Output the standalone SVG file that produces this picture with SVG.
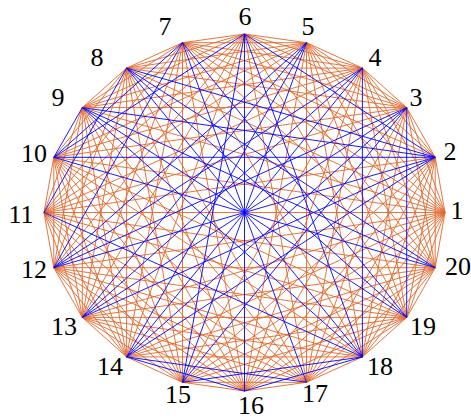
<svg xmlns="http://www.w3.org/2000/svg" width="471" height="419" viewBox="0 0 471 419">
<style>
.o{stroke:#E2662A;stroke-width:0.9;fill:none}
.b{stroke:#0000FF;stroke-width:0.9;fill:none}
text{font-family:"Liberation Serif","DejaVu Serif",serif;font-size:26px;fill:#000;text-anchor:middle}
</style>
<rect width="471" height="419" fill="#fff"/>
<g id="connectors">
<g id="orange">
<path class="o" d="M445 212.5L435.2 157.3"/><path class="o" d="M445 212.5L406.7 107.6"/><path class="o" d="M445 212.5L362.4 68.1"/><path class="o" d="M445 212.5L306.5 42.7"/><path class="o" d="M445 212.5L244.5 34"/><path class="o" d="M445 212.5L182.5 42.7"/><path class="o" d="M445 212.5L126.6 68.1"/><path class="o" d="M445 212.5L82.3 107.6"/><path class="o" d="M445 212.5L53.8 157.3"/><path class="o" d="M445 212.5L44 212.5"/><path class="o" d="M445 212.5L53.8 267.7"/><path class="o" d="M445 212.5L82.3 317.4"/><path class="o" d="M445 212.5L126.6 356.9"/><path class="o" d="M445 212.5L182.5 382.3"/><path class="o" d="M445 212.5L244.5 391"/><path class="o" d="M445 212.5L306.5 382.3"/><path class="o" d="M445 212.5L362.4 356.9"/><path class="o" d="M445 212.5L406.7 317.4"/><path class="o" d="M445 212.5L435.2 267.7"/>
<path class="o" d="M435.2 157.3L406.7 107.6"/><path class="o" d="M435.2 157.3L362.4 68.1"/><path class="o" d="M435.2 157.3L306.5 42.7"/><path class="o" d="M435.2 157.3L182.5 42.7"/><path class="o" d="M435.2 157.3L44 212.5"/><path class="o" d="M435.2 157.3L182.5 382.3"/><path class="o" d="M435.2 157.3L244.5 391"/><path class="o" d="M435.2 157.3L306.5 382.3"/><path class="o" d="M435.2 157.3L362.4 356.9"/><path class="o" d="M435.2 157.3L406.7 317.4"/><path class="o" d="M435.2 157.3L435.2 267.7"/>
<path class="o" d="M406.7 107.6L362.4 68.1"/><path class="o" d="M406.7 107.6L306.5 42.7"/><path class="o" d="M406.7 107.6L244.5 34"/><path class="o" d="M406.7 107.6L182.5 42.7"/><path class="o" d="M406.7 107.6L126.6 68.1"/><path class="o" d="M406.7 107.6L82.3 107.6"/><path class="o" d="M406.7 107.6L53.8 157.3"/><path class="o" d="M406.7 107.6L44 212.5"/><path class="o" d="M406.7 107.6L244.5 391"/><path class="o" d="M406.7 107.6L306.5 382.3"/><path class="o" d="M406.7 107.6L362.4 356.9"/><path class="o" d="M406.7 107.6L435.2 267.7"/>
<path class="o" d="M362.4 68.1L306.5 42.7"/><path class="o" d="M362.4 68.1L244.5 34"/><path class="o" d="M362.4 68.1L182.5 42.7"/><path class="o" d="M362.4 68.1L126.6 68.1"/><path class="o" d="M362.4 68.1L82.3 107.6"/><path class="o" d="M362.4 68.1L53.8 157.3"/><path class="o" d="M362.4 68.1L44 212.5"/><path class="o" d="M362.4 68.1L182.5 382.3"/><path class="o" d="M362.4 68.1L244.5 391"/><path class="o" d="M362.4 68.1L306.5 382.3"/><path class="o" d="M362.4 68.1L406.7 317.4"/><path class="o" d="M362.4 68.1L435.2 267.7"/>
<path class="o" d="M306.5 42.7L244.5 34"/><path class="o" d="M306.5 42.7L182.5 42.7"/><path class="o" d="M306.5 42.7L126.6 68.1"/><path class="o" d="M306.5 42.7L82.3 107.6"/><path class="o" d="M306.5 42.7L53.8 157.3"/><path class="o" d="M306.5 42.7L44 212.5"/><path class="o" d="M306.5 42.7L244.5 391"/><path class="o" d="M306.5 42.7L306.5 382.3"/><path class="o" d="M306.5 42.7L362.4 356.9"/><path class="o" d="M306.5 42.7L406.7 317.4"/><path class="o" d="M306.5 42.7L435.2 267.7"/>
<path class="o" d="M244.5 34L182.5 42.7"/><path class="o" d="M244.5 34L126.6 68.1"/><path class="o" d="M244.5 34L82.3 107.6"/><path class="o" d="M244.5 34L44 212.5"/><path class="o" d="M244.5 34L53.8 267.7"/><path class="o" d="M244.5 34L82.3 317.4"/><path class="o" d="M244.5 34L126.6 356.9"/><path class="o" d="M244.5 34L306.5 382.3"/><path class="o" d="M244.5 34L406.7 317.4"/><path class="o" d="M244.5 34L435.2 267.7"/>
<path class="o" d="M182.5 42.7L126.6 68.1"/><path class="o" d="M182.5 42.7L82.3 107.6"/><path class="o" d="M182.5 42.7L44 212.5"/><path class="o" d="M182.5 42.7L82.3 317.4"/><path class="o" d="M182.5 42.7L126.6 356.9"/><path class="o" d="M182.5 42.7L182.5 382.3"/><path class="o" d="M182.5 42.7L244.5 391"/><path class="o" d="M182.5 42.7L362.4 356.9"/><path class="o" d="M182.5 42.7L435.2 267.7"/>
<path class="o" d="M126.6 68.1L82.3 107.6"/><path class="o" d="M126.6 68.1L53.8 157.3"/><path class="o" d="M126.6 68.1L53.8 267.7"/><path class="o" d="M126.6 68.1L82.3 317.4"/><path class="o" d="M126.6 68.1L126.6 356.9"/><path class="o" d="M126.6 68.1L182.5 382.3"/><path class="o" d="M126.6 68.1L244.5 391"/><path class="o" d="M126.6 68.1L306.5 382.3"/>
<path class="o" d="M82.3 107.6L44 212.5"/><path class="o" d="M82.3 107.6L53.8 267.7"/><path class="o" d="M82.3 107.6L82.3 317.4"/><path class="o" d="M82.3 107.6L126.6 356.9"/><path class="o" d="M82.3 107.6L182.5 382.3"/><path class="o" d="M82.3 107.6L244.5 391"/><path class="o" d="M82.3 107.6L306.5 382.3"/>
<path class="o" d="M53.8 157.3L44 212.5"/><path class="o" d="M53.8 157.3L53.8 267.7"/><path class="o" d="M53.8 157.3L82.3 317.4"/><path class="o" d="M53.8 157.3L126.6 356.9"/><path class="o" d="M53.8 157.3L182.5 382.3"/><path class="o" d="M53.8 157.3L244.5 391"/><path class="o" d="M53.8 157.3L306.5 382.3"/><path class="o" d="M53.8 157.3L362.4 356.9"/><path class="o" d="M53.8 157.3L406.7 317.4"/>
<path class="o" d="M44 212.5L53.8 267.7"/><path class="o" d="M44 212.5L82.3 317.4"/><path class="o" d="M44 212.5L126.6 356.9"/><path class="o" d="M44 212.5L182.5 382.3"/><path class="o" d="M44 212.5L244.5 391"/><path class="o" d="M44 212.5L306.5 382.3"/><path class="o" d="M44 212.5L406.7 317.4"/><path class="o" d="M44 212.5L435.2 267.7"/>
<path class="o" d="M53.8 267.7L82.3 317.4"/><path class="o" d="M53.8 267.7L126.6 356.9"/><path class="o" d="M53.8 267.7L182.5 382.3"/><path class="o" d="M53.8 267.7L244.5 391"/><path class="o" d="M53.8 267.7L306.5 382.3"/><path class="o" d="M53.8 267.7L362.4 356.9"/><path class="o" d="M53.8 267.7L406.7 317.4"/><path class="o" d="M53.8 267.7L435.2 267.7"/>
<path class="o" d="M82.3 317.4L126.6 356.9"/><path class="o" d="M82.3 317.4L182.5 382.3"/><path class="o" d="M82.3 317.4L244.5 391"/><path class="o" d="M82.3 317.4L306.5 382.3"/><path class="o" d="M82.3 317.4L362.4 356.9"/><path class="o" d="M82.3 317.4L406.7 317.4"/><path class="o" d="M82.3 317.4L435.2 267.7"/>
<path class="o" d="M126.6 356.9L182.5 382.3"/><path class="o" d="M126.6 356.9L362.4 356.9"/><path class="o" d="M126.6 356.9L406.7 317.4"/><path class="o" d="M126.6 356.9L435.2 267.7"/>
<path class="o" d="M182.5 382.3L244.5 391"/><path class="o" d="M182.5 382.3L306.5 382.3"/><path class="o" d="M182.5 382.3L406.7 317.4"/><path class="o" d="M182.5 382.3L435.2 267.7"/>
<path class="o" d="M244.5 391L306.5 382.3"/><path class="o" d="M244.5 391L406.7 317.4"/><path class="o" d="M244.5 391L435.2 267.7"/>
<path class="o" d="M306.5 382.3L362.4 356.9"/><path class="o" d="M306.5 382.3L406.7 317.4"/><path class="o" d="M306.5 382.3L435.2 267.7"/>
<path class="o" d="M362.4 356.9L406.7 317.4"/><path class="o" d="M362.4 356.9L435.2 267.7"/>
<path class="o" d="M406.7 317.4L435.2 267.7"/>
</g>
<g id="blue">
<path class="b" d="M435.2 157.3L244.5 34"/><path class="b" d="M435.2 157.3L126.6 68.1"/><path class="b" d="M435.2 157.3L82.3 107.6"/><path class="b" d="M435.2 157.3L53.8 157.3"/><path class="b" d="M435.2 157.3L53.8 267.7"/><path class="b" d="M435.2 157.3L82.3 317.4"/><path class="b" d="M435.2 157.3L126.6 356.9"/>
<path class="b" d="M406.7 107.6L53.8 267.7"/><path class="b" d="M406.7 107.6L82.3 317.4"/><path class="b" d="M406.7 107.6L126.6 356.9"/><path class="b" d="M406.7 107.6L182.5 382.3"/><path class="b" d="M406.7 107.6L406.7 317.4"/>
<path class="b" d="M362.4 68.1L53.8 267.7"/><path class="b" d="M362.4 68.1L82.3 317.4"/><path class="b" d="M362.4 68.1L126.6 356.9"/><path class="b" d="M362.4 68.1L362.4 356.9"/>
<path class="b" d="M306.5 42.7L53.8 267.7"/><path class="b" d="M306.5 42.7L82.3 317.4"/><path class="b" d="M306.5 42.7L126.6 356.9"/><path class="b" d="M306.5 42.7L182.5 382.3"/>
<path class="b" d="M244.5 34L53.8 157.3"/><path class="b" d="M244.5 34L182.5 382.3"/><path class="b" d="M244.5 34L244.5 391"/><path class="b" d="M244.5 34L362.4 356.9"/>
<path class="b" d="M182.5 42.7L53.8 157.3"/><path class="b" d="M182.5 42.7L53.8 267.7"/><path class="b" d="M182.5 42.7L306.5 382.3"/><path class="b" d="M182.5 42.7L406.7 317.4"/>
<path class="b" d="M126.6 68.1L44 212.5"/><path class="b" d="M126.6 68.1L362.4 356.9"/><path class="b" d="M126.6 68.1L406.7 317.4"/><path class="b" d="M126.6 68.1L435.2 267.7"/>
<path class="b" d="M82.3 107.6L53.8 157.3"/><path class="b" d="M82.3 107.6L362.4 356.9"/><path class="b" d="M82.3 107.6L406.7 317.4"/><path class="b" d="M82.3 107.6L435.2 267.7"/>
<path class="b" d="M53.8 157.3L435.2 267.7"/><path class="b" d="M44 212.5L362.4 356.9"/>
<path class="b" d="M126.6 356.9L244.5 391"/><path class="b" d="M126.6 356.9L306.5 382.3"/><path class="b" d="M182.5 382.3L362.4 356.9"/><path class="b" d="M244.5 391L362.4 356.9"/>
</g>
</g>
<g id="n1"><text x="457" y="219">1</text></g>
<g id="n2"><text x="450" y="160">2</text></g>
<g id="n3"><text x="416" y="106">3</text></g>
<g id="n4"><text x="375" y="66">4</text></g>
<g id="n5"><text x="308" y="35">5</text></g>
<g id="n6"><text x="245" y="25">6</text></g>
<g id="n7"><text x="165" y="35">7</text></g>
<g id="n8"><text x="97" y="66">8</text></g>
<g id="n9"><text x="58" y="106">9</text></g>
<g id="n10"><text x="34" y="162">10</text></g>
<g id="n11"><text x="21" y="223">11</text></g>
<g id="n12"><text x="34" y="278">12</text></g>
<g id="n13"><text x="64" y="335">13</text></g>
<g id="n14"><text x="110" y="375">14</text></g>
<g id="n15"><text x="178" y="403">15</text></g>
<g id="n16"><text x="251" y="414">16</text></g>
<g id="n17"><text x="315" y="402">17</text></g>
<g id="n18"><text x="380" y="375">18</text></g>
<g id="n19"><text x="423" y="335">19</text></g>
<g id="n20"><text x="458" y="275">20</text></g>
</svg>
